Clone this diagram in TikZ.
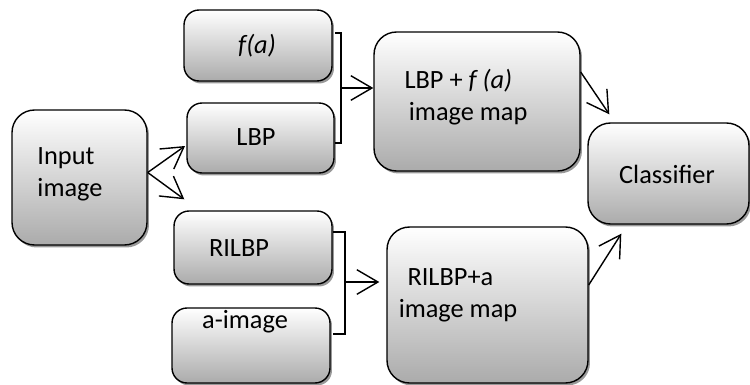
\documentclass[tikz,border=0pt]{standalone}
\usepackage{fontspec}
\setmainfont{Carlito}
\usetikzlibrary{arrows.meta,shadows,calc}
\tikzset{box/.style={rectangle,draw,thick,rounded corners=0.3cm,top color=white,bottom color=black!33,
    drop shadow={shadow xshift=0.04cm,shadow yshift=-0.05cm,fill=black!50,opacity=0.8}},
  bigbox/.style={box,rounded corners=0.45cm},
  lbl/.style={font=\fontsize{15}{18}\selectfont,inner sep=0pt,align=left},
  arr/.style={thick,-{Straight Barb[length=12pt,width=14pt]}}}

\begin{document}
\begin{tikzpicture}[x=0.02cm,y=-0.02cm]
    \useasboundingbox (0,0) rectangle (750,385);

    \node[bigbox,minimum width=2.70cm,minimum height=2.70cm] (inp)at (79.5,177.5) {};
    \node[box,minimum width=2.96cm,minimum height=1.42cm] (fa)at (258,45.5) {};
    \node[box,minimum width=2.94cm,minimum height=1.40cm] (lbp)at (260.5,138) {};
    \node[box,minimum width=3.16cm,minimum height=1.46cm] (rilbp)at (253,247.5) {};
    \node[box,minimum width=3.16cm,minimum height=1.50cm] (aimg)at (251,345.5) {};
    \node[bigbox,minimum width=4.12cm,minimum height=2.78cm] (map1)at (477,101.5) {};
    \node[bigbox,minimum width=4.02cm,minimum height=3.12cm] (map2)at (487.5,305) {};
    \node[bigbox,minimum width=3.22cm,minimum height=2.02cm] (cls)at (668.5,173.5) {};

    \node[lbl] (tinp)at (70,174) {Input\\image};
    \node[lbl] (tfa)at (257,46) {\textit{f(a)}};
    \node[lbl] (tlbp)at (256,137) {LBP};
    \node[lbl] (trilbp)at (239,248) {RILBP};
    \node[lbl] (taimg)at (245,322) {a-image};
    \node[lbl] (tmap1)at (466,97) {LBP + \textit{f (a)}\\\,image map};
    \node[lbl] (tmap2)at (458,295) {\,\,RILBP+a\\image map};
    \node[lbl] (tcls)at (667,174) {Classifier};

    % brackets joining the feature boxes
    \coordinate (b1) at (341,88);
    \coordinate (b2) at (345,282);
    \draw [thick] (335,33) -- (341,33) -- (341,143) -- (335,143);
    \draw [thick] (333,232) -- (345,232) -- (345,334) -- (333,334);

    \draw [arr] ([yshift=0.1cm]inp.east) to (185,146);
    \draw [arr] ([yshift=0.1cm]inp.east) to ([xshift=0.22cm,yshift=0.22cm]rilbp.north west);
    \draw [arr] (b1) to (b1 -| map1.west);
    \draw [arr] (b2) to ([xshift=-0.14cm]b2 -| map2.west);
    \draw [arr] ([yshift=0.59cm]map1.east) to ([xshift=0.44cm,yshift=0.16cm]cls.north west);
    \draw [arr] ([yshift=0.4cm]map2.east) to ([xshift=0.68cm,yshift=-0.18cm]cls.south west);
\end{tikzpicture}
\end{document}
